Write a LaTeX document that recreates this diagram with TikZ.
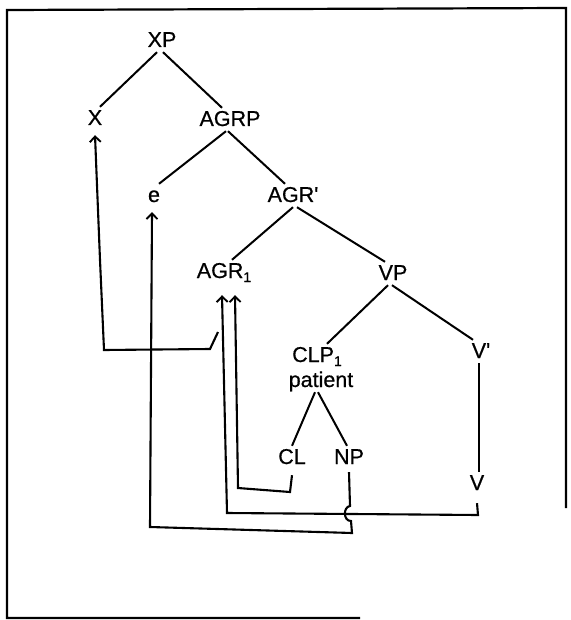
\documentclass[tikz,border=0pt]{standalone}
\usepackage{fontspec}
\setmainfont{Liberation Sans}[Ligatures=TeXOff]
\newfontfamily\labfont{Liberation Sans}[Ligatures=TeXOff,FakeBold=0.6]
\usetikzlibrary{arrows.meta}
\newcommand{\sbone}{\raisebox{-4pt}{\fontsize{14}{14}\selectfont 1}}
\begin{document}
\begin{tikzpicture}[x=1pt,y=-1pt,
  lab/.style={anchor=base,inner sep=2.5pt,text height=15.5pt,text depth=2.5pt,font=\labfont\fontsize{21.5}{24}\selectfont},
  treeln/.style={line width=2pt},
  mv/.style={line width=2.1pt,-{Straight Barb[length=5.5pt,width=11pt,line width=1.9pt]}},
  boxline/.style={line width=2.2pt}]
\useasboundingbox (0,0) rectangle (570,620);
% frame
\draw[boxline] (360,618) -- (7,618) -- (7,10) -- (566,8) -- (566,508);
% nodes
\node[lab] (XP) at (162,47) {XP};
\node[lab] (X) at (95,125) {X};
\node[lab] (AGRP) at (230,126) {AGRP};
\node[lab] (e) at (154,202) {e};
\node[lab] (AGRb) at (293,202) {AGR'};
\node[lab] (AGR1) at (224,278) {AGR\sbone};
\node[lab] (VP) at (393,280) {VP};
\node[lab] (CLP) at (317,362) {CLP\sbone};
\node[lab] (pat) at (321,387) {patient};
\node[lab] (Vb) at (481,358) {V'};
\node[lab] (CL) at (292,464) {CL};
\node[lab] (NP) at (349,464) {NP};
\node[lab] (V) at (477,490) {V};
% tree edges
\draw[treeln] ([xshift=-5pt]XP.south) -- ([xshift=5pt]X.north);
\draw[treeln] ([xshift=1pt]XP.south) -- ([xshift=-8pt]AGRP.north);
\draw[treeln] ([xshift=-4pt]AGRP.south) -- ([xshift=5pt]e.north);
\draw[treeln] ([xshift=-2pt]AGRP.south) -- ([xshift=-8pt]AGRb.north);
\draw[treeln] (AGRb.south) -- ([xshift=8pt]AGR1.north);
\draw[treeln] ([xshift=4pt]AGRb.south) -- ([xshift=-8pt]VP.north);
\draw[treeln] ([xshift=-5pt]VP.south) -- ([xshift=10pt]CLP.north);
\draw[treeln] ([xshift=-1pt]VP.south) -- ([xshift=-8pt]Vb.north);
\draw[treeln] ([xshift=-2pt]Vb.south) -- ([xshift=2pt]V.north);
\draw[treeln] ([xshift=-6pt]pat.south) -- (CL.north);
\draw[treeln] ([xshift=-3pt]pat.south) -- ([xshift=-2pt]NP.north);
% movement arrows
\coordinate (tick) at (218,332);
\draw[mv] (tick) -- (210,349) -- (104,350) -- (100,260) -- ([yshift=-5pt]X.south);
\draw[mv] ([yshift=-3pt]NP.south) -- (350,506) .. controls (343,507) and (343,521) .. (351,521) -- (352,533) -- (150,527) -- ([xshift=-2pt,yshift=-5pt]e.south);
\draw[mv] ([yshift=-8pt]V.south) -- (478,515) -- (227,513) -- ([xshift=-2pt,yshift=-12pt]AGR1.south);
\draw[mv] ([yshift=-6pt]CL.south) -- (290,492) -- (238,488) -- ([xshift=11pt,yshift=-12pt]AGR1.south);
\end{tikzpicture}
\end{document}
